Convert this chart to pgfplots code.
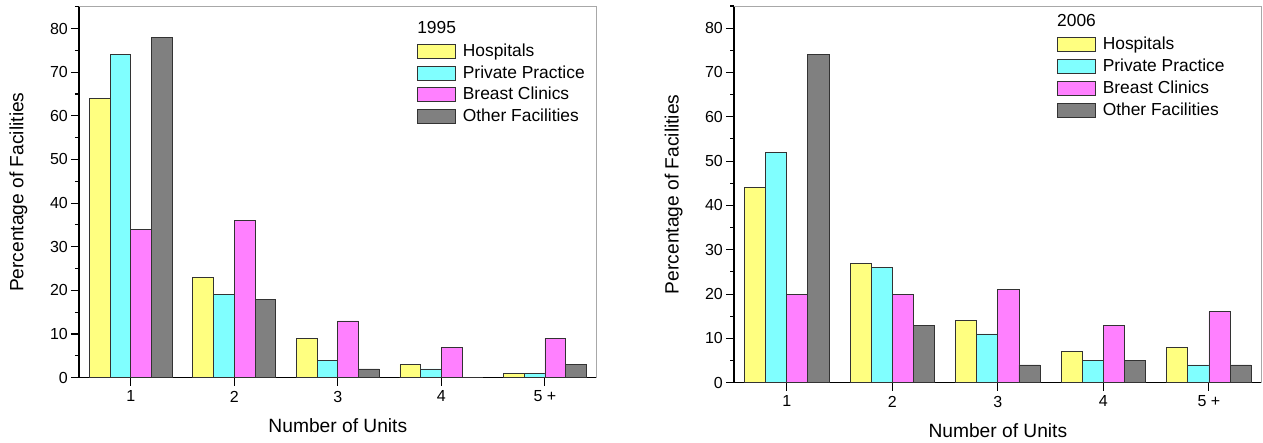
\documentclass[border=0pt]{standalone}
\usepackage{fontspec}
\setmainfont{Liberation Sans}
\usepackage{pgfplots}
\pgfplotsset{compat=1.18}
\usepackage{pgfplotstable}

\definecolor{cYel}{HTML}{FFFF80}
\definecolor{cCya}{HTML}{80FFFF}
\definecolor{cMag}{HTML}{FF80FF}
\definecolor{cGry}{HTML}{808080}
\definecolor{cEdge}{HTML}{333333}
\definecolor{cFrame}{HTML}{A8A8A8}

\pgfplotstableread{
cat hosp priv breast other
1 64 74 34 78
2 23 19 36 18
3 9 4 13 2
4 3 2 7 0
5 1 1 9 3
}\dataA

\pgfplotstableread{
cat hosp priv breast other
1 44 52 20 74
2 27 26 20 13
3 14 11 21 4
4 7 5 13 5
5 8 4 16 4
}\dataB

\pgfplotsset{
  mystyle/.style={
    scale only axis, anchor=south west,
    xmin=0.5, xmax=5.5, ymin=0, ymax=85,
    ybar=0pt, bar width=0.2,
    axis x line*=bottom, axis y line*=left,
    axis line style={black, line width=1.2pt},
    tick align=outside, major tick length=8pt, minor tick length=4pt,
    every tick/.style={black, line width=1.1pt},
    xtick={1,2,3,4,5}, xticklabels={1,2,3,4,5 +},
    ytick={0,10,...,80}, minor ytick={5,15,...,85},
    /pgf/number format/assume math mode=true,
    tick label style={font=\fontsize{16}{19}\selectfont},
    yticklabel style={inner sep=0pt, xshift=-3pt},
    xticklabel style={inner sep=0pt, yshift=-5pt},
    label style={font=\fontsize{19.2}{23}\selectfont},
    xlabel={Number of Units},
    ylabel={Percentage of Facilities},
    xlabel style={at={([yshift=-55pt]axis description cs:0.5,0)}, anchor=base},
    ylabel style={at={([xshift=-55.5pt]axis description cs:0,0.5)}, anchor=base, rotate=0},
    every axis plot/.append style={draw=cEdge, line width=0.8pt},
    legend image code/.code={\draw[#1, line width=0.8pt] (0pt,-7pt) rectangle (38pt,7pt);},
    legend cell align=left,
    legend style={draw=none, fill=none, inner sep=0pt, outer sep=0pt,
      row sep=0pt, column sep=7pt, anchor=north west,
      font=\fontsize{17.4}{21}\selectfont},
    after end axis/.code={\draw[cFrame, line width=0.8pt] (rel axis cs:0,1) -- (rel axis cs:1,1) -- (rel axis cs:1,0);},
  }
}

\begin{document}
\begin{tikzpicture}
\path[use as bounding box] (0,0) rectangle (1263pt,443pt);

\begin{axis}[mystyle, at={(79pt,65.3pt)}, width=517.7pt, height=371pt,
  legend style={at={(rel axis cs:0.653,0.9085)},
    nodes={inner sep=0pt, text height=16pt, text depth=5.6pt}}]
\addplot[fill=cYel] table[x=cat, y=hosp] {\dataA};
\addplot[fill=cCya] table[x=cat, y=priv] {\dataA};
\addplot[fill=cMag] table[x=cat, y=breast] {\dataA};
\addplot[fill=cGry] table[x=cat, y=other] {\dataA};
\legend{Hospitals, Private Practice, Breast Clinics, Other Facilities}
\node[anchor=base west, inner sep=0pt, font=\fontsize{17.4}{21}\selectfont] at (rel axis cs:0.653,0.928) {1995};
\end{axis}

\begin{axis}[mystyle, at={(734pt,60.3pt)}, width=527.7pt, height=376.7pt,
  legend style={at={(rel axis cs:0.612,0.927)},
    nodes={inner sep=0pt, text height=16pt, text depth=6.1pt}}]
\addplot[fill=cYel] table[x=cat, y=hosp] {\dataB};
\addplot[fill=cCya] table[x=cat, y=priv] {\dataB};
\addplot[fill=cMag] table[x=cat, y=breast] {\dataB};
\addplot[fill=cGry] table[x=cat, y=other] {\dataB};
\legend{Hospitals, Private Practice, Breast Clinics, Other Facilities}
\node[anchor=base west, inner sep=0pt, font=\fontsize{17.4}{21}\selectfont] at (rel axis cs:0.612,0.9456) {2006};
\end{axis}
\end{tikzpicture}
\end{document}
